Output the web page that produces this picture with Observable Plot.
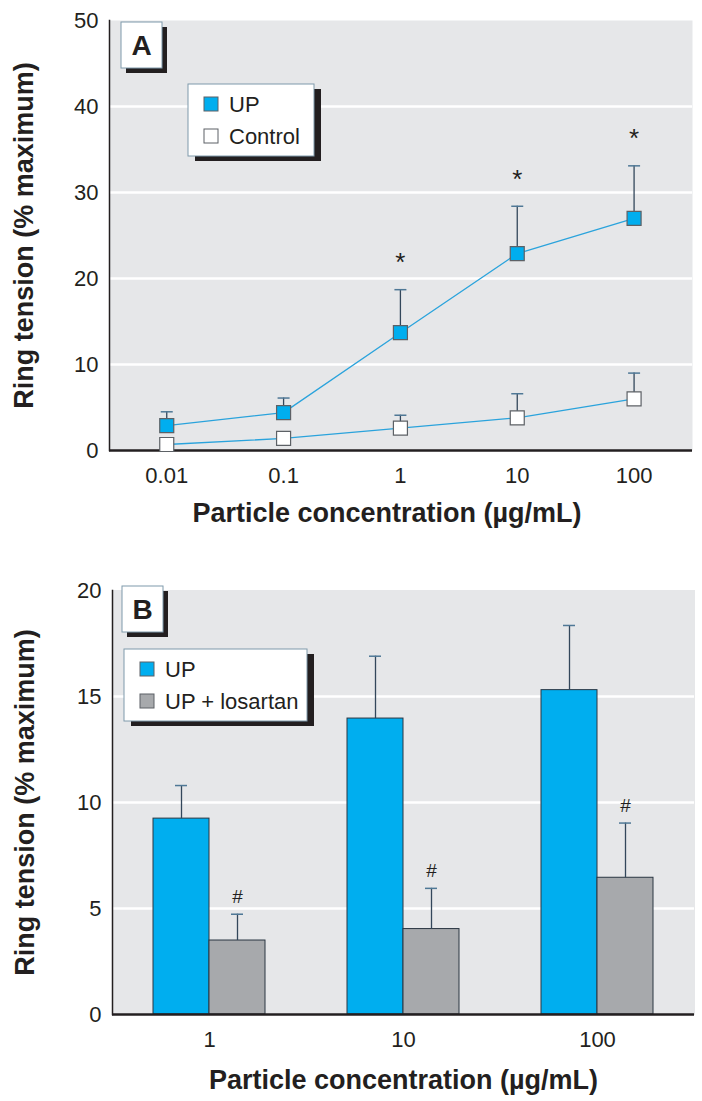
<!DOCTYPE html>
<html>
<head>
<meta charset="utf-8">
<script src="https://cdn.jsdelivr.net/npm/d3@7"></script>
<script src="https://cdn.jsdelivr.net/npm/@observablehq/plot@0.6"></script>
<style>
  html, body { margin: 0; padding: 0; background: #fff; overflow: hidden; }
  #chart svg { display: block; }
  #chart svg text { font-family: "Liberation Sans", Arial, sans-serif; fill: #231f20; }
  #chart g[aria-label$="axis label"] text { font-weight: 700; font-size: 27px; }
  .panel-letter { font-weight: 700; font-size: 28px; text-anchor: middle; }
  .legend-text { font-size: 22px; text-anchor: start; }
</style>
</head>
<body>
<div id="chart"></div>
<script>
// ---------- Panel A data ----------
const concA = [0.01, 0.1, 1, 10, 100];
const upMeanA = [2.9, 4.4, 13.7, 22.9, 27.0];
const upErrA = [1.6, 1.7, 5.0, 5.5, 6.1];
const ctrlMeanA = [0.7, 1.4, 2.6, 3.8, 6.0];
const ctrlErrA = [0.4, 0.5, 1.5, 2.8, 3.0];
const sigA = [false, false, true, true, true];
const seriesA = ["UP", "Control"];
const yTicksA = [0, 10, 20, 30, 40, 50];
const xTicksA = [0.01, 0.1, 1, 10, 100];

// ---------- Panel B data ----------
const concB = ["1", "10", "100"];
const groupsB = ["UP", "UP + losartan"];
const upMeanB = [9.24, 13.96, 15.3];
const upErrB = [1.56, 2.94, 3.05];
const losMeanB = [3.49, 4.03, 6.45];
const losErrB = [1.24, 1.92, 2.58];
const sigB = [true, true, true];
const yTicksB = [0, 5, 10, 15, 20];

const xLabel = "Particle concentration (\u00b5g/mL)";
const yLabel = "Ring tension (% maximum)";

const BLUE = "#00aeef", GRAY = "#a7a9ac", BG = "#e6e7e9", INK = "#231f20";
const LINE = "#2aa3dc", STEM = "#33475b", CAP = "#4f7896";

const rowsA = concA.flatMap((c, i) => [
  {conc: c, group: seriesA[0], mean: upMeanA[i], err: upErrA[i], sig: sigA[i]},
  {conc: c, group: seriesA[1], mean: ctrlMeanA[i], err: ctrlErrA[i], sig: false}
]);
const rowsB = concB.flatMap((c, i) => [
  {conc: c, group: groupsB[0], mean: upMeanB[i], err: upErrB[i], sig: false},
  {conc: c, group: groupsB[1], mean: losMeanB[i], err: losErrB[i], sig: sigB[i]}
]);
const errTop = d => d.mean + d.err;

// horizontal cap symbol for error bars
const capSymbol = {draw(ctx, size) { const w = Math.sqrt(size / Math.PI); ctx.moveTo(-w, 0); ctx.lineTo(w, 0); }};

const font = "'Liberation Sans', Arial, sans-serif";

const plotA = Plot.plot({
  width: 702, height: 545,
  marginLeft: 109, marginRight: 10, marginTop: 20, marginBottom: 95,
  style: {fontFamily: font, fontSize: "22px", color: INK, background: "white", overflow: "visible"},
  x: {type: "log", domain: [Math.pow(10, -2.49), Math.pow(10, 2.5)]},
  y: {domain: [0, 50]},
  marks: [
    Plot.frame({fill: BG, stroke: null}),
    Plot.gridY(yTicksA.slice(1, -1), {stroke: "white", strokeOpacity: 1, strokeWidth: 2.5}),
    Plot.ruleY([0], {stroke: INK, strokeWidth: 2.5}),
    Plot.frame({anchor: "left", stroke: INK, strokeWidth: 1.5}),
    Plot.line(rowsA, {x: "conc", y: "mean", z: "group", stroke: LINE, strokeWidth: 1.3}),
    Plot.ruleX(rowsA, {x: "conc", y1: "mean", y2: errTop, stroke: STEM, strokeWidth: 1.3}),
    Plot.dot(rowsA, {x: "conc", y: errTop, symbol: capSymbol, r: 6, fill: "none", stroke: CAP, strokeWidth: 1.5}),
    Plot.dot(rowsA, {x: "conc", y: "mean", symbol: "square", r: 7.9,
      fill: d => d.group === "UP" ? BLUE : "white", stroke: "#5d6166", strokeWidth: 1.2}),
    Plot.text(rowsA.filter(d => d.sig), {x: "conc", y: errTop, text: () => "*", dy: -27, fontSize: 26, fill: INK}),
    Plot.axisX({ticks: xTicksA, tickFormat: d => String(d), tickSize: 0, tickPadding: 17, label: null}),
    Plot.text([xLabel], {frameAnchor: "bottom", lineAnchor: "bottom", dx: -14, dy: 71,
      fontSize: 27, fontWeight: "bold", fill: INK}),
    Plot.axisY({ticks: yTicksA, tickSize: 0, tickPadding: 11,
      label: yLabel, labelAnchor: "center", labelArrow: "none", labelOffset: 96})
  ]
});

const plotB = Plot.plot({
  width: 702, height: 556,
  marginLeft: 111, marginRight: 7, marginTop: 45, marginBottom: 87,
  style: {fontFamily: font, fontSize: "22px", color: INK, background: "white", overflow: "visible"},
  fx: {domain: concB, padding: 0},
  x: {domain: groupsB, paddingInner: 0, paddingOuter: 0.72, axis: null},
  y: {domain: [0, 20]},
  color: {domain: groupsB, range: [BLUE, GRAY]},
  marks: [
    Plot.frame({fill: BG, stroke: BG, strokeWidth: 1}),
    Plot.gridY(yTicksB.slice(1, -1), {stroke: "white", strokeOpacity: 1, strokeWidth: 2.5}),
    Plot.barY(rowsB, {fx: "conc", x: "group", y: "mean", fill: "group", stroke: "#2a3642", strokeWidth: 1}),
    Plot.ruleX(rowsB, {fx: "conc", x: "group", y1: "mean", y2: errTop, stroke: STEM, strokeWidth: 1.3}),
    Plot.tickY(rowsB, {fx: "conc", x: "group", y: errTop, insetLeft: 22, insetRight: 22, stroke: CAP, strokeWidth: 1.5}),
    Plot.text(rowsB.filter(d => d.sig), {fx: "conc", x: "group", y: errTop, text: () => "#", dy: -17, fontSize: 19, fill: INK}),
    Plot.ruleY([0], {stroke: INK, strokeWidth: 2.5}),
    Plot.frame({anchor: "left", stroke: INK, strokeWidth: 1.5, facetAnchor: "left"}),
    Plot.axisFx({anchor: "bottom", tickSize: 0, tickPadding: 17,
      label: xLabel, labelAnchor: "center", labelArrow: "none", labelOffset: 74}),
    Plot.axisY({ticks: yTicksB, tickSize: 0, tickPadding: 11,
      label: yLabel, labelAnchor: "center", labelArrow: "none", labelOffset: 98})
  ]
});

// ---------- Panel letters and legends (boxes with drop shadows) ----------
function shadowBox(svg, x, y, w, h, sx, sy) {
  svg.append("rect").attr("x", x + sx).attr("y", y + sy).attr("width", w).attr("height", h).attr("fill", INK);
  svg.append("rect").attr("x", x).attr("y", y).attr("width", w).attr("height", h)
    .attr("fill", "white").attr("stroke", "#7f9aab").attr("stroke-width", 1);
}
function panelLetter(svg, letter, x, y) {
  const g = svg.append("g");
  shadowBox(g, x, y, 41, 46, 5, 5);
  g.append("text").attr("class", "panel-letter").attr("text-anchor", "middle")
    .attr("x", x + 20.5).attr("y", y + 33).text(letter);
}
function legend(svg, entries, x, y, w, h) {
  const g = svg.append("g");
  shadowBox(g, x, y, w, h, 7, 5);
  entries.forEach((e, i) => {
    g.append("rect").attr("x", x + 16).attr("y", y + 13 + i * 32).attr("width", 14).attr("height", 14)
      .attr("fill", e.color).attr("stroke", "#5d6166").attr("stroke-width", 1);
    g.append("text").attr("class", "legend-text").attr("text-anchor", "start")
      .attr("x", x + 41).attr("y", y + 28 + i * 32).text(e.label);
  });
}

const svgA = d3.select(plotA.tagName === "svg" ? plotA : plotA.querySelector("svg"));
panelLetter(svgA, "A", 121, 22);
legend(svgA, [{label: seriesA[0], color: BLUE}, {label: seriesA[1], color: "white"}], 188, 84, 126, 72);

const svgB = d3.select(plotB.tagName === "svg" ? plotB : plotB.querySelector("svg"));
panelLetter(svgB, "B", 122, 41);
legend(svgB, [{label: groupsB[0], color: BLUE}, {label: groupsB[1], color: GRAY}], 124, 104, 183, 72);

document.getElementById("chart").append(plotA, plotB);
</script>
</body>
</html>
